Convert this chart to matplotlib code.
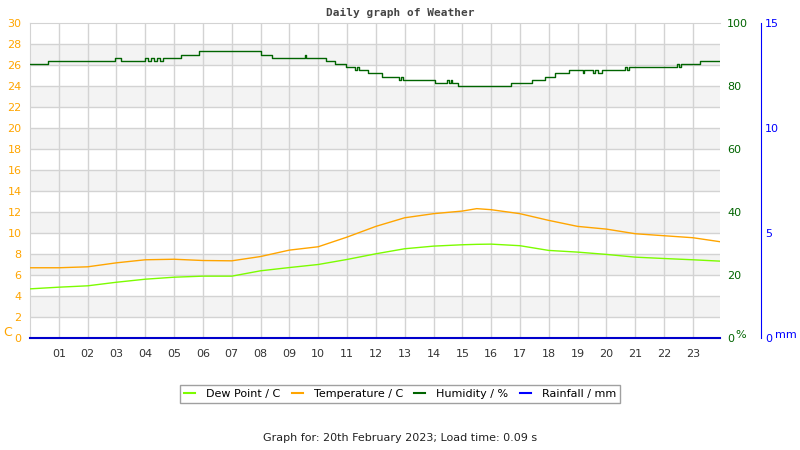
import matplotlib
matplotlib.use('Agg')
from matplotlib import pyplot as plt
from matplotlib.lines import Line2D

# hours of the day (x) and readings
hours = [0, 1, 2, 3, 4, 5, 6, 7, 8, 9, 10, 11, 12, 13, 14, 15, 15.5, 16, 17, 18, 19, 20, 21, 22, 23, 23.94]
temperature = [6.69, 6.69, 6.78, 7.16, 7.45, 7.5, 7.38, 7.35, 7.76, 8.37, 8.69, 9.61, 10.63, 11.45,
               11.84, 12.09, 12.32, 12.22, 11.84, 11.2, 10.63, 10.37, 9.93, 9.74, 9.55, 9.17]
dew_point = [4.68, 4.84, 4.97, 5.31, 5.6, 5.79, 5.89, 5.89, 6.4, 6.71, 7.0, 7.48, 8.02, 8.5,
             8.75, 8.88, 8.92, 8.94, 8.79, 8.34, 8.18, 7.96, 7.7, 7.57, 7.45, 7.32]

hum_hours = [0.0, 0.64, 2.96, 3.14, 4.0, 4.1, 4.2, 4.3, 4.4, 4.5, 4.6, 5.25, 5.88, 8.0, 8.41,
             9.55, 9.58, 10.28, 10.59, 10.97, 11.29, 11.35, 11.4, 11.74, 12.22, 12.81, 12.87,
             12.93, 14.06, 14.48, 14.55, 14.6, 14.65, 14.86, 16.7, 17.43, 17.88, 18.22, 18.71,
             19.19, 19.23, 19.54, 19.6, 19.7, 19.85, 20.65, 20.72, 20.8, 22.45, 22.52, 22.6,
             23.25, 23.94]
humidity = [87, 88, 89, 88, 89, 88, 89, 88, 89, 88, 89, 90, 91, 90, 89,
            90, 89, 88, 87, 86, 85, 86, 85, 84, 83, 82, 83,
            82, 81, 82, 81, 82, 81, 80, 81, 82, 83, 84, 85,
            84, 85, 84, 85, 84, 85, 86, 85, 86, 87, 86, 87,
            88, 88]

rain_hours = [0, 23.94]
rainfall = [0, 0]

hour_labels = ['%02d' % h for h in range(1, 24)]

c_temp = '#ffa500'
c_dew = '#7cfc00'
c_hum = '#006400'
c_rain = '#0000ff'
grid_c = '#d3d3d3'

fig = plt.figure(figsize=(8, 4.5), dpi=100)
ax = fig.add_axes([30 / 800, 1 - 338 / 450, 690 / 800, 315 / 450])

ax.set_xlim(0, 23.94)
ax.set_ylim(0, 30)
for y0 in range(2, 30, 4):
    ax.axhspan(y0, y0 + 2, color='#f3f3f3', zorder=0, lw=0)
for y0 in range(2, 30, 2):
    ax.axhline(y0, color=grid_c, lw=1, zorder=1)
for h in range(1, 24):
    ax.axvline(h, color=grid_c, lw=1, zorder=1)

ax.plot(hours, dew_point, color=c_dew, lw=1, zorder=3)
ax.plot(hours, temperature, color=c_temp, lw=1, zorder=3)

ax.set_xticks(range(1, 24))
ax.set_xticklabels(hour_labels)
ax.set_yticks(range(0, 31, 2))
ax.tick_params(axis='x', length=0, labelsize=8, colors='#333333', pad=8)
ax.tick_params(axis='y', length=0, labelsize=8, colors=c_temp, pad=6)
for s in ['left', 'top', 'bottom']:
    ax.spines[s].set_color(grid_c)
ax.spines['right'].set_visible(False)

ax2 = ax.twinx()
ax2.set_ylim(0, 100)
ax2.set_yticks(range(0, 101, 20))
ax2.tick_params(axis='y', length=0, labelsize=8, colors=c_hum, pad=5)
ax2.plot(hum_hours, humidity, color=c_hum, lw=1, drawstyle='steps-post', zorder=4)
for s in ax2.spines.values():
    s.set_visible(False)

ax3 = ax.twinx()
ax3.set_ylim(0, 15)
ax3.set_yticks([0, 5, 10, 15])
# outward offset is in points: 41 px at 100 dpi
ax3.spines['right'].set_position(('outward', 41 * 0.72))
ax3.spines['right'].set_color(c_rain)
for s in ['left', 'top', 'bottom']:
    ax3.spines[s].set_visible(False)
ax3.tick_params(axis='y', length=0, labelsize=8, colors=c_rain, pad=3)
ax3.plot(rain_hours, rainfall, color='#0000cc', lw=1.5, zorder=5, clip_on=False)

fig.text(400 / 800, 1 - 13 / 450, 'Daily graph of Weather', ha='center', va='center',
         family='DejaVu Sans Mono', fontweight='bold', fontsize=8, color='#444444')
fig.text(3 / 800, 1 - 333 / 450, 'C', ha='left', va='center', fontsize=9, color=c_temp)
fig.text(735 / 800, 1 - 335 / 450, '%', ha='left', va='center', fontsize=8, color=c_hum)
fig.text(775 / 800, 1 - 335 / 450, 'mm', ha='left', va='center', fontsize=8, color=c_rain)

handles = [Line2D([], [], color=c_dew, lw=1.5),
           Line2D([], [], color=c_temp, lw=1.5),
           Line2D([], [], color=c_hum, lw=1.5),
           Line2D([], [], color=c_rain, lw=1.5)]
labels = ['Dew Point / C', 'Temperature / C', 'Humidity / %', 'Rainfall / mm']
leg = fig.legend(handles, labels, loc='center', bbox_to_anchor=(400 / 800, 1 - 394 / 450),
                 ncol=4, fontsize=8, handlelength=1.0, columnspacing=1.0, handletextpad=1.0,
                 fancybox=False, edgecolor='#888888', borderpad=0.4)
leg.get_frame().set_linewidth(1)

fig.text(400 / 800, 1 - 438 / 450, 'Graph for: 20th February 2023; Load time: 0.09 s',
         ha='center', va='center', fontsize=8, color='#222222')

fig.savefig('out.png', dpi=100)
